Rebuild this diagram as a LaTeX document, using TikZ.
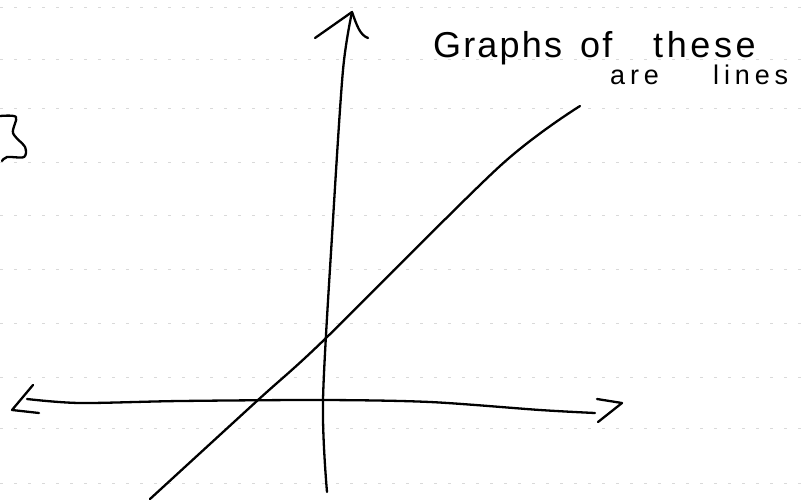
\documentclass[tikz,border=0pt]{standalone}
\usepackage{fontspec}
\setmainfont{Liberation Sans}
\begin{document}
\begin{tikzpicture}[x=1pt,y=-1pt,
  pen/.style={line width=2.3pt, line cap=round, line join=round, draw=black},
  ruled/.style={line width=0.5pt, draw=black!15, dash pattern=on 3pt off 11pt},
  hand/.style={inner sep=0pt}]
\useasboundingbox[fill=white] (0,0) rectangle (806,499);
% faint ruled lines of the paper
\foreach \yy in {7,59,108,162,215,269,323,377,428,483}
  \draw[ruled] (0,\yy) -- (806,\yy);
% vertical axis
\coordinate (ytop) at (352,12);
\coordinate (ybot) at (327,492);
\draw[pen] plot[smooth] coordinates {(ytop) (343,70) (333,220) (323,400) (ybot)};
\coordinate (yl) at (315,38);
\coordinate (yr) at (368,38);
\draw[pen] (yl) -- (ytop) .. controls (357,26) and (360,35) .. (yr);
% horizontal axis
\coordinate (xl) at (27,399);
\coordinate (xr) at (595,413);
\draw[pen] plot[smooth] coordinates {(xl) (80,403) (180,401) (323,400) (430,402) (540,410) (xr)};
\coordinate (xlt) at (12,410);
\draw[pen] (33,385) -- (xlt) -- (39,413);
\coordinate (xrt) at (622,403);
\draw[pen] (597,399) -- (xrt) -- (598,422);
% the line
\draw[pen] plot[smooth] coordinates {(150,499) (258,400) (325,339) (500,166) (580,106)};
% brace fragment on the left
\draw[pen] plot[smooth] coordinates {(0,116) (16,117) (13,133) (25,147) (24,157) (7,157) (2,161)};
% text
\node[hand, anchor=base west, font=\fontsize{36}{40}\selectfont] (title) at (433,57)
  {\addfontfeature{LetterSpace=6}\makebox[147pt][l]{Graphs}\makebox[73pt][l]{of}\addfontfeature{LetterSpace=10}these};
\node[hand, anchor=base west, font=\fontsize{27}{30}\selectfont] (sub) at (610,84)
  {\addfontfeature{LetterSpace=18}\makebox[103pt][l]{are}lines};
\end{tikzpicture}
\end{document}
